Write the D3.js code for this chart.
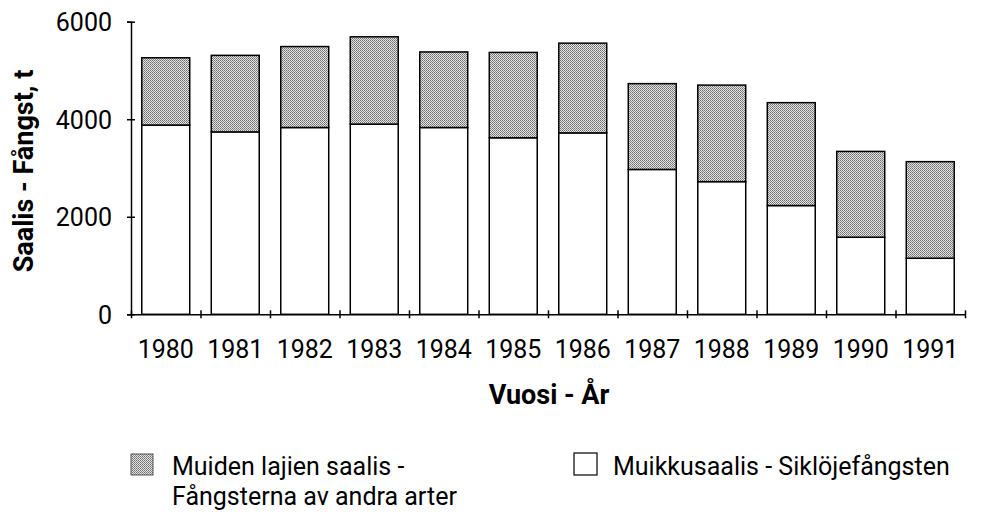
<!DOCTYPE html>
<html>
<head>
<meta charset="utf-8">
<script src="https://cdn.jsdelivr.net/npm/d3@7"></script>
<style>
  body { margin: 0; background: #fff; }
  text { font-family: Roboto, "Noto Sans", sans-serif; fill: #000; }
</style>
</head>
<body>
<div id="chart"></div>
<script>
var years = ["1980", "1981", "1982", "1983", "1984", "1985", "1986", "1987", "1988", "1989", "1990", "1991"];
// Muikkusaalis - Siklöjefångsten (t)
var vendace = [3880, 3740, 3830, 3900, 3830, 3620, 3720, 2970, 2720, 2230, 1580, 1150];
// Muiden lajien saalis - Fångsterna av andra arter (t)
var others = [1380, 1570, 1660, 1790, 1550, 1750, 1840, 1760, 1980, 2110, 1760, 1980];
var yTicks = [0, 2000, 4000, 6000];

var width = 998, height = 517;

var svg = d3.select("#chart").append("svg")
  .attr("width", width)
  .attr("height", height);

// stipple pattern for the grey series
var defs = svg.append("defs");
var pat = defs.append("pattern")
  .attr("id", "stipple")
  .attr("width", 2).attr("height", 2)
  .attr("patternUnits", "userSpaceOnUse");
pat.append("rect").attr("width", 2).attr("height", 2).attr("fill", "#e2e2e2");
pat.append("rect").attr("width", 1).attr("height", 1).attr("fill", "#6e6e6e");
pat.append("rect").attr("x", 1).attr("y", 1).attr("width", 1).attr("height", 1).attr("fill", "#8a8a8a");

var x = d3.scaleBand()
  .domain(years)
  .range([131, 965])
  .paddingInner(0.31)
  .paddingOuter(0.155);

var y = d3.scaleLinear()
  .domain([0, 6000])
  .range([314.3, 21.7]);

var data = years.map(function (yr, i) {
  return { year: yr, vendace: vendace[i], others: others[i] };
});

// bars
var bars = svg.append("g").attr("class", "bars");
bars.selectAll("rect.low")
  .data(data)
  .enter().append("rect")
  .attr("class", "low")
  .attr("x", function (d) { return x(d.year); })
  .attr("width", x.bandwidth())
  .attr("y", function (d) { return y(d.vendace); })
  .attr("height", function (d) { return y(0) - y(d.vendace); })
  .attr("fill", "#fff")
  .attr("stroke", "#000")
  .attr("stroke-width", 1.5);

bars.selectAll("rect.high")
  .data(data)
  .enter().append("rect")
  .attr("class", "high")
  .attr("x", function (d) { return x(d.year); })
  .attr("width", x.bandwidth())
  .attr("y", function (d) { return y(d.vendace + d.others); })
  .attr("height", function (d) { return y(d.vendace) - y(d.vendace + d.others); })
  .attr("fill", "url(#stipple)")
  .attr("stroke", "#000")
  .attr("stroke-width", 1.5);

// y axis
var yAxis = svg.append("g")
  .attr("transform", "translate(131,0)")
  .call(d3.axisLeft(y).tickValues(yTicks).tickSize(4).tickPadding(15).tickFormat(d3.format("d")));
yAxis.select(".domain").attr("stroke-width", 1.5);
yAxis.selectAll(".tick line").attr("x1", -4).attr("x2", 4).attr("stroke-width", 1.5);
yAxis.selectAll(".tick text").style("font-size", "25px").attr("dy", "0.36em");

// x axis line with ticks at band boundaries
var xb = d3.scaleLinear().domain([0, years.length]).range(x.range());
var xAxis = svg.append("g")
  .attr("transform", "translate(0," + y(0) + ")")
  .call(d3.axisBottom(xb).tickValues(d3.range(years.length + 1)).tickSize(4).tickSizeOuter(0).tickFormat(""));
xAxis.select(".domain").attr("stroke-width", 1.5);
xAxis.selectAll(".tick line").attr("y1", -4).attr("y2", 4).attr("stroke-width", 1.5);

// year labels
var xLab = svg.append("g")
  .attr("transform", "translate(0," + y(0) + ")")
  .call(d3.axisBottom(x).tickSize(0).tickPadding(26));
xLab.select(".domain").remove();
xLab.selectAll(".tick text").style("font-size", "25px");

// axis titles
svg.append("text")
  .attr("x", 549).attr("y", 404)
  .attr("text-anchor", "middle")
  .style("font-size", "27px").style("font-weight", "bold")
  .text("Vuosi - År");

svg.append("text")
  .attr("transform", "translate(33,171) rotate(-90)")
  .attr("text-anchor", "middle")
  .style("font-size", "27px").style("font-weight", "bold")
  .text("Saalis - Fångst, t");

// legend
var legend = svg.append("g");
legend.append("rect")
  .attr("x", 131).attr("y", 454).attr("width", 22).attr("height", 21)
  .attr("fill", "url(#stipple)").attr("stroke", "#555").attr("stroke-width", 1);
legend.append("text")
  .attr("x", 172).attr("y", 475)
  .style("font-size", "25px")
  .text("Muiden lajien saalis -");
legend.append("text")
  .attr("x", 172).attr("y", 505)
  .style("font-size", "25px")
  .text("Fångsterna av andra arter");

legend.append("rect")
  .attr("x", 574).attr("y", 453).attr("width", 23).attr("height", 22)
  .attr("fill", "#fff").attr("stroke", "#000").attr("stroke-width", 1.2);
legend.append("text")
  .attr("x", 613).attr("y", 475)
  .style("font-size", "25px")
  .text("Muikkusaalis - Siklöjefångsten");
</script>
</body>
</html>
